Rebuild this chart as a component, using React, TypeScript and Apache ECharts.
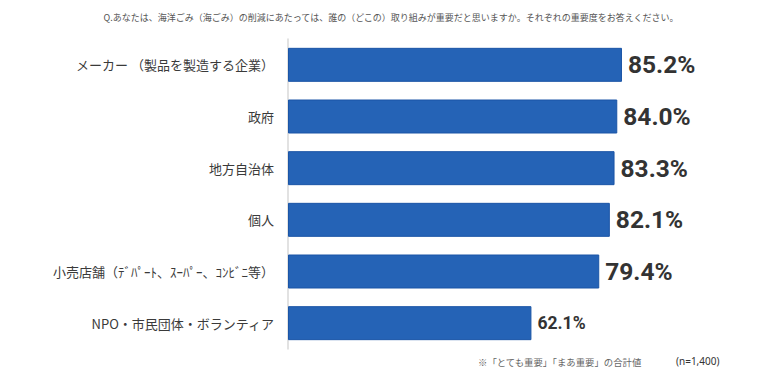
import React, { useEffect, useRef } from "react";
import * as echarts from "echarts";

const categories = [
  "メーカー （製品を製造する企業）",
  "政府",
  "地方自治体",
  "個人",
  "小売店舗（ﾃﾞﾊﾟｰﾄ、ｽｰﾊﾟｰ、ｺﾝﾋﾞﾆ等）",
  "NPO・市民団体・ボランティア",
];
const values = [85.2, 84.0, 83.3, 82.1, 79.4, 62.1];
const labelSizes = [24.5, 24.5, 24.5, 24.5, 24.5, 17.5];
const titleText =
  "Q.あなたは、海洋ごみ（海ごみ）の削減にあたっては、誰の（どこの）取り組みが重要だと思いますか。それぞれの重要度をお答えください。";
const noteText = "※「とても重要」「まあ重要」の合計値";
const nText = "(n=1,400)";

export default function App() {
  const ref = useRef<HTMLDivElement>(null);
  useEffect(() => {
    const chart = echarts.init(ref.current!, undefined, { renderer: "svg" });
    chart.setOption({
      animation: false,
      backgroundColor: "#ffffff",
      title: {
        text: titleText,
        left: 386,
        top: 8,
        textAlign: "center",
        textStyle: {
          fontSize: 9,
          fontWeight: "normal",
          color: "#555555",
          fontFamily: "Noto Sans CJK JP",
        },
      },
      grid: { left: 288, right: 100, top: 39, bottom: 35, containLabel: false },
      xAxis: {
        type: "value",
        min: 0,
        max: 100,
        show: false,
      },
      yAxis: {
        type: "category",
        data: categories,
        inverse: true,
        axisLine: { show: true, lineStyle: { color: "#d9d9d9", width: 1.5 } },
        axisTick: { show: false },
        axisLabel: {
          margin: 14,
          fontSize: 13,
          color: "#3a3a3a",
          fontFamily: "Noto Sans CJK JP",
        },
      },
      series: [
        {
          type: "bar",
          data: values.map((v, i) => ({
            value: v,
            label: {
              fontSize: labelSizes[i],
            },
          })),
          barWidth: 34,
          itemStyle: {
            color: "#2563b6",
            borderColor: "#1b55a6",
            borderWidth: 1,
          },
          label: {
            show: true,
            position: "right",
            distance: 6,
            formatter: (p: any) => p.value.toFixed(1) + "%",
            fontWeight: "bold",
            color: "#333333",
            fontFamily: "Roboto",
          },
        },
      ],
      graphic: [
        {
          type: "text",
          left: 478,
          top: 357,
          style: {
            text: noteText,
            fontSize: 9.4,
            fill: "#666666",
            fontFamily: "Noto Sans CJK JP",
          },
        },
        {
          type: "text",
          left: 676,
          top: 356,
          style: {
            text: nText,
            fontSize: 10,
            fill: "#333333",
            fontFamily: "Noto Sans",
          },
        },
      ],
    });
    return () => chart.dispose();
  }, []);
  return <div ref={ref} style={{ width: 780, height: 384, position: "absolute", left: 0, top: 0 }} />;
}
